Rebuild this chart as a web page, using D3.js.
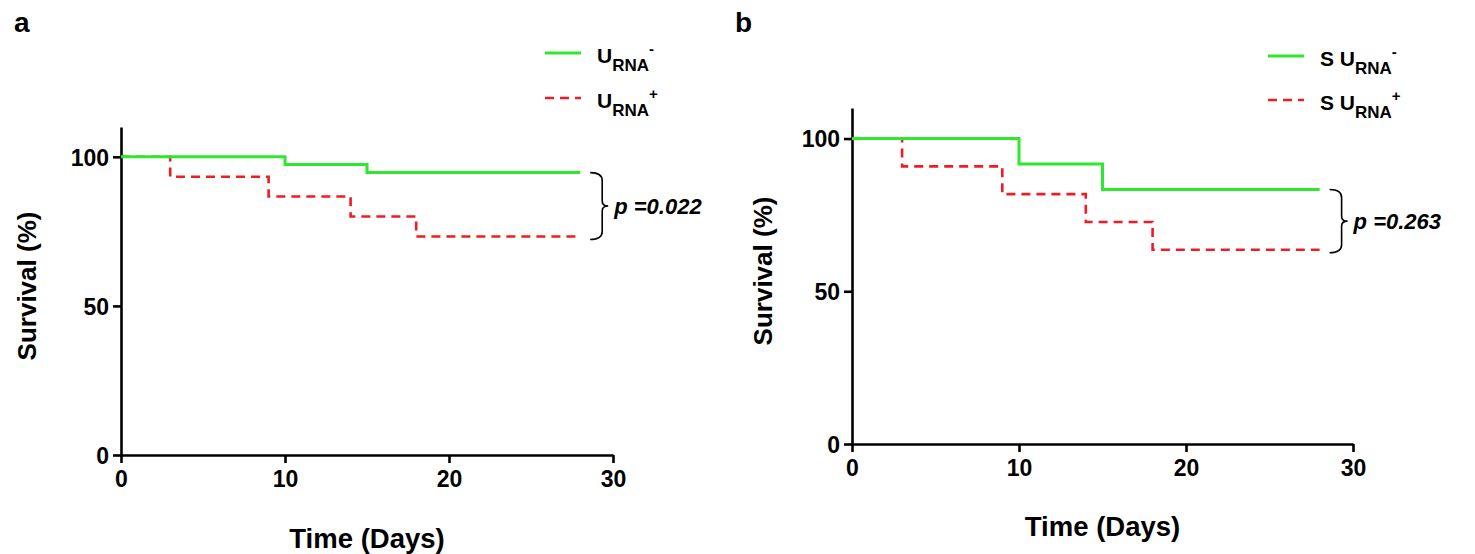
<!DOCTYPE html>
<html><head><meta charset="utf-8">
<script src="https://cdn.jsdelivr.net/npm/d3@7"></script>
<style>
body{margin:0;background:#fff;}
text{font-family:"Liberation Sans",Arial,sans-serif;font-weight:bold;fill:#000;}
</style></head><body>
<svg id="c" width="1475" height="554"></svg>
<script>
// Panel a: Kaplan-Meier step data (time in days, survival %)
const aNegTimes = [0, 10, 15, 28];
const aNegSurv  = [100, 97.4, 94.7, 94.7];
const aPosTimes = [0, 3, 9, 14, 18, 28];
const aPosSurv  = [100, 93.3, 86.7, 80, 73.3, 73.3];
// Panel b
const bNegTimes = [0, 10, 15, 28];
const bNegSurv  = [100, 91.7, 83.3, 83.3];
const bPosTimes = [0, 3, 9, 14, 18, 28];
const bPosSurv  = [100, 90.9, 81.8, 72.7, 63.6, 63.6];
const xTicks = [0, 10, 20, 30];
const yTicks = [0, 50, 100];
const pValues = ["p =0.022", "p =0.263"];
const panelLabels = ["a", "b"];
const legendPrefix = ["", "S "];

const svg = d3.select("#c");
const GREEN = "#2ee82e", RED = "#ee1c24";
const FF = '"Liberation Sans",Arial,sans-serif';

const panels = [
  {x0:121, x1:613, y0:455, y1:127, neg:[aNegTimes,aNegSurv], pos:[aPosTimes,aPosSurv],
   p:pValues[0], lab:panelLabels[0], labX:14, pre:legendPrefix[0],
   legX:545, legB1:63, legB2:108, yTitleX:36, xTitleY:548},
  {x0:852, x1:1353, y0:444, y1:108, neg:[bNegTimes,bNegSurv], pos:[bPosTimes,bPosSurv],
   p:pValues[1], lab:panelLabels[1], labX:735, pre:legendPrefix[1],
   legX:1268, legB1:66, legB2:110, yTitleX:772, xTitleY:536}
];

panels.forEach(P => {
  const x = d3.scaleLinear().domain([0,30]).range([P.x0, P.x1]);
  const y = d3.scaleLinear().domain([0,110]).range([P.y0, P.y1]);
  const g = svg.append("g");

  // axes
  const xa = g.append("g").attr("transform",`translate(0,${P.y0})`)
    .call(d3.axisBottom(x).tickValues(xTicks).tickSize(8).tickSizeOuter(0).tickPadding(5));
  const ya = g.append("g").attr("transform",`translate(${P.x0},0)`)
    .call(d3.axisLeft(y).tickValues(yTicks).tickSize(8).tickSizeOuter(0).tickPadding(4));
  [xa,ya].forEach(a=>{
    a.selectAll("path,line").attr("stroke","#000").attr("stroke-width",2.6);
    a.selectAll("text").style("font-size","23px").style("font-family",FF).style("font-weight","bold").attr("fill","#000");
  });
  xa.selectAll("text").attr("dy","0.82em");
  ya.selectAll("text").attr("dy","0.36em");

  const line = d3.line().x(d=>x(d[0])).y(d=>y(d[1])).curve(d3.curveStepAfter);
  const mk = (t,s)=>t.map((v,i)=>[v,s[i]]);
  g.append("path").datum(mk(...P.pos)).attr("d",line).attr("fill","none")
    .attr("stroke",RED).attr("stroke-width",2.6).attr("stroke-dasharray","9,6");
  g.append("path").datum(mk(...P.neg)).attr("d",line).attr("fill","none")
    .attr("stroke",GREEN).attr("stroke-width",3);

  // bracket
  const tEnd = P.neg[0][P.neg[0].length-1];
  const yTop = y(P.neg[1][P.neg[1].length-1]);
  const yBot = y(P.pos[1][P.pos[1].length-1]) + 3;
  const bx = x(tEnd) + 10;
  const mid = (yTop+yBot)/2;
  const w = 12;
  g.append("path").attr("fill","none").attr("stroke","#000").attr("stroke-width",1.6)
    .attr("d",`M${bx},${yTop} Q${bx+w},${yTop} ${bx+w},${yTop+8} L${bx+w},${mid-5} Q${bx+w},${mid} ${bx+w+6},${mid} Q${bx+w},${mid} ${bx+w},${mid+5} L${bx+w},${yBot-8} Q${bx+w},${yBot} ${bx},${yBot}`);
  g.append("text").attr("x",bx+w+12).attr("y",mid+8).style("font-size","22px").style("font-style","italic").text(P.p);

  // panel label
  g.append("text").attr("x",P.labX).attr("y",32).style("font-size","28px").text(P.lab);

  // axis titles
  g.append("text").attr("transform",`translate(${P.yTitleX},${(P.y0+P.y1)/2-5}) rotate(-90)`)
    .attr("text-anchor","middle").style("font-size","26px").text("Survival (%)");
  g.append("text").attr("x",(P.x0+P.x1)/2).attr("y",P.xTitleY).attr("text-anchor","middle")
    .style("font-size","27.5px").text("Time (Days)");

  // legend
  [[P.legB1,GREEN,null,"-"],[P.legB2,RED,"9,6","+"]].forEach(([lb,col,da,sup])=>{
    g.append("line").attr("x1",P.legX).attr("x2",P.legX+36).attr("y1",lb-10).attr("y2",lb-10)
      .attr("stroke",col).attr("stroke-width",da?2.6:3).attr("stroke-dasharray",da);
    const t = g.append("text").attr("x",P.legX+52).attr("y",lb).style("font-size","21px");
    t.append("tspan").text(P.pre+"U");
    t.append("tspan").attr("dy",8).style("font-size","17px").text("RNA");
    t.append("tspan").attr("dy",-17).style("font-size","15px").text(sup);
  });
});
</script></body></html>
